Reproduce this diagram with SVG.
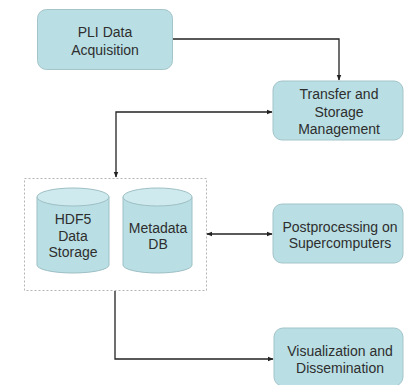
<svg xmlns="http://www.w3.org/2000/svg" width="404" height="385" viewBox="0 0 404 385">
  <defs>
    <style>
      .box { fill: #b9dfe4; stroke: #a3c4c9; stroke-width: 1; }
      .cyl { fill: #b9dfe4; stroke: #9dbfc4; stroke-width: 1; }
      .top { fill: #cfeaee; stroke: #9dbfc4; stroke-width: 1; }
      .lbl { font-family: "Liberation Sans", Arial, sans-serif; font-size: 14px; fill: #2e2e2e; text-anchor: middle; }
      .wire { fill: none; stroke: #222; stroke-width: 1.3; }
      .group { fill: #ffffff; stroke: #b5b5b5; stroke-width: 1; stroke-dasharray: 2 2; }
    </style>
    <marker id="arrow" viewBox="0 0 10 10" refX="9" refY="5" markerWidth="6" markerHeight="6" orient="auto-start-reverse" markerUnits="userSpaceOnUse">
      <path d="M0,1 L10,5 L0,9 Z" fill="#222"/>
    </marker>
  </defs>

  <!-- storage container -->
  <g id="storage">
    <rect class="group" x="24.5" y="178.5" width="182" height="112"/>
    <g id="hdf5">
      <path class="cyl" d="M37,197 L37,265 A36,8 0 0 0 109,265 L109,197"/>
      <ellipse class="top" cx="73" cy="197" rx="36" ry="9"/>
      <text class="lbl" x="73" y="224">HDF5</text>
      <text class="lbl" x="73" y="241">Data</text>
      <text class="lbl" x="73" y="257">Storage</text>
    </g>
    <g id="metadata">
      <path class="cyl" d="M123,197 L123,265 A34.5,8 0 0 0 192,265 L192,197"/>
      <ellipse class="top" cx="157.5" cy="197" rx="34.5" ry="9"/>
      <text class="lbl" x="158" y="233">Metadata</text>
      <text class="lbl" x="158" y="249">DB</text>
    </g>
  </g>

  <g id="acquisition">
    <rect class="box" x="37.5" y="9.5" width="135" height="60" rx="9"/>
    <text class="lbl" x="105" y="37">PLI Data</text>
    <text class="lbl" x="105" y="55">Acquisition</text>
  </g>

  <g id="transfer">
    <rect class="box" x="273" y="81" width="130" height="59" rx="9"/>
    <text class="lbl" x="339" y="99">Transfer and</text>
    <text class="lbl" x="339" y="117">Storage</text>
    <text class="lbl" x="339" y="134">Management</text>
  </g>

  <g id="postprocessing">
    <rect class="box" x="273" y="204" width="130" height="59" rx="9"/>
    <text class="lbl" x="340" y="232">Postprocessing on</text>
    <text class="lbl" x="340" y="248">Supercomputers</text>
  </g>

  <g id="visualization">
    <rect class="box" x="274" y="328" width="129" height="58" rx="9"/>
    <text class="lbl" x="340" y="356">Visualization and</text>
    <text class="lbl" x="340" y="373">Dissemination</text>
  </g>

  <g id="connectors">
    <path class="wire" d="M173,39 L339,39 L339,80" marker-end="url(#arrow)"/>
    <path class="wire" d="M116,177 L116,112 L272,112" marker-start="url(#arrow)" marker-end="url(#arrow)"/>
    <path class="wire" d="M207,234 L272,234" marker-start="url(#arrow)" marker-end="url(#arrow)"/>
    <path class="wire" d="M115,291 L115,359 L273,359" marker-end="url(#arrow)"/>
  </g>
</svg>
